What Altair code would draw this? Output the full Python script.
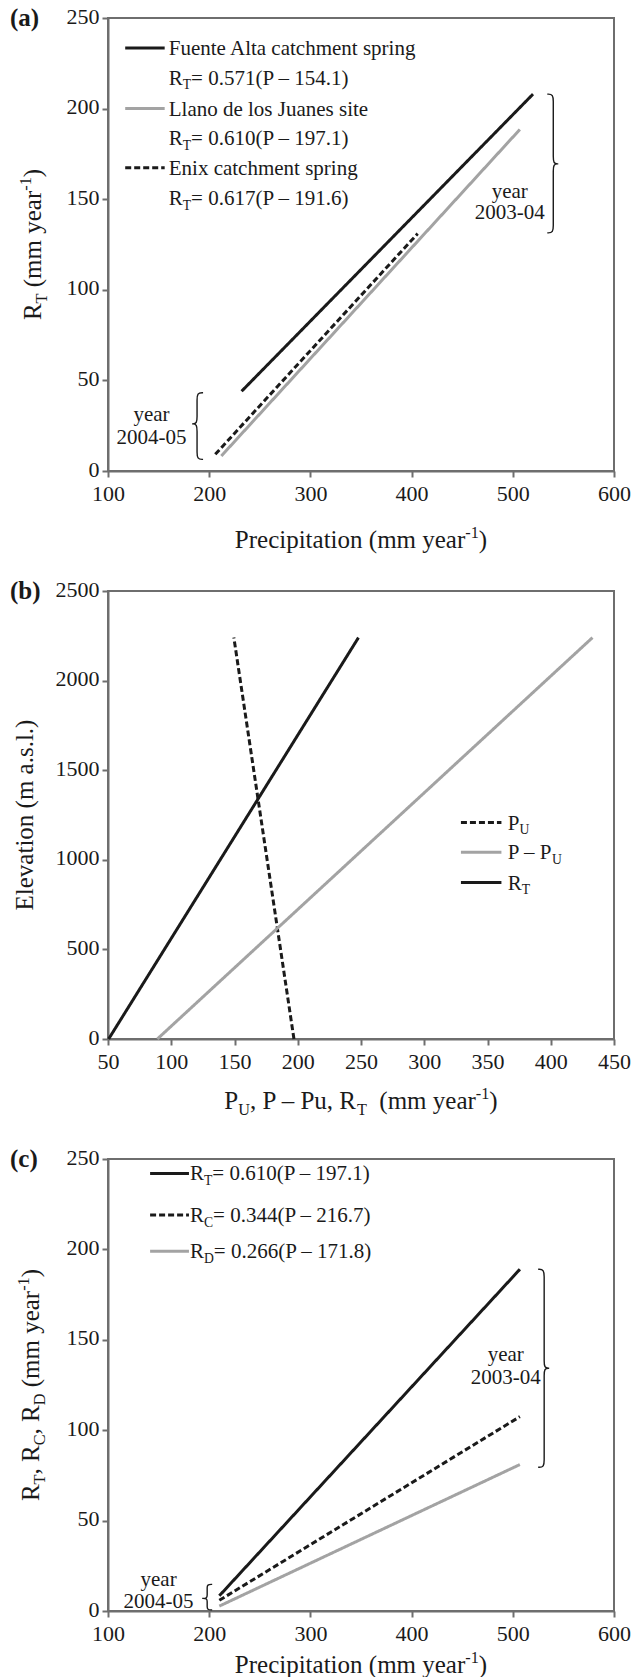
import altair as alt
import pandas as pd

FONT = "Liberation Serif"
INK = "#1a1a1a"
GREY = "#a3a3a3"
FRAME = "#6e6e6e"
DASH = [6, 3]

# ---------------- values ----------------
# panel (a)
A_SERIES = ["Fuente Alta catchment spring", "Llano de los Juanes site", "Enix catchment spring"]
A_EQS = ["= 0.571(P \u2013 154.1)", "= 0.610(P \u2013 197.1)", "= 0.617(P \u2013 191.6)"]
A_P_START = [232, 212, 206]
A_P_END = [520, 507, 406]
A_R_START = [44.0, 8.3, 9.2]
A_R_END = [208.0, 188.5, 131.0]
A_X_TICKS = [100, 200, 300, 400, 500, 600]
A_Y_TICKS = [0, 50, 100, 150, 200, 250]

# panel (b)
B_SERIES = ["PU", "P-PU", "RT"]
B_X_BOTTOM = [197.0, 89.0, 50.5]
B_X_TOP = [149.5, 433.0, 248.0]
B_ELEV = [0, 2240]
B_X_TICKS = [50, 100, 150, 200, 250, 300, 350, 400, 450]
B_Y_TICKS = [0, 500, 1000, 1500, 2000, 2500]

# panel (c)
C_SERIES = ["RT", "RC", "RD"]
C_EQS = ["= 0.610(P \u2013 197.1)", "= 0.344(P \u2013 216.7)", "= 0.266(P \u2013 171.8)"]
C_SUBS = ["T", "C", "D"]
C_P = [210, 507]
C_R_START = [8.4, 5.9, 2.7]
C_R_END = [189.0, 107.5, 81.0]
C_X_TICKS = [100, 200, 300, 400, 500, 600]
C_Y_TICKS = [0, 50, 100, 150, 200, 250]

YEAR_LABELS = ["year", "2003-04", "2004-05"]

# ---------------- layout ----------------
W = 506
HA, HB, HC = 453, 448, 452
SPACING = 120

# Times / Liberation Serif advance widths (1/1000 em)
CW = {' ': 250, '(': 333, ')': 333, '-': 333, '\u2013': 500, '=': 564, '.': 250, ',': 250,
      'A': 722, 'C': 667, 'D': 722, 'E': 611, 'F': 556, 'J': 389, 'L': 611, 'P': 556,
      'R': 667, 'T': 611, 'U': 722,
      'a': 444, 'b': 500, 'c': 444, 'd': 500, 'e': 444, 'f': 333, 'g': 500, 'h': 500,
      'i': 278, 'j': 278, 'k': 500, 'l': 278, 'm': 778, 'n': 500, 'o': 500, 'p': 500,
      'r': 333, 's': 389, 't': 278, 'u': 500, 'v': 500, 'w': 722, 'x': 500, 'y': 500}
for d in "0123456789":
    CW[d] = 500
SMALL = 0.65


def tw(s, size):
    return sum(CW.get(ch, 500) for ch in s) * size / 1000.0


def rich(segs, df, enc, size, anchor="left", angle=0, color=INK, weight="normal", dy0=0.0):
    sizes = [size * SMALL if k != "n" else size for t, k in segs]
    widths = [tw(t, s) for (t, k), s in zip(segs, sizes)]
    off = -sum(widths) / 2 if anchor == "center" else 0.0
    out = []
    for (t, k), s, w in zip(segs, sizes, widths):
        lead = len(t) - len(t.lstrip(" "))
        core = t.strip(" ")
        if core:
            dy = dy0 + (0.22 * size if k == "sub" else (-0.40 * size if k == "sup" else 0.0))
            out.append(
                alt.Chart(df).mark_text(text=core, font=FONT, fontSize=s, fontWeight=weight, color=color,
                                        align="left", baseline="alphabetic", angle=angle,
                                        dx=off + tw(" " * lead, s), dy=dy)
                .encode(**enc)
            )
        off += w
    return out


DUMMY = pd.DataFrame({"k": [0]})


def px(xp, yp):
    return dict(x=alt.value(xp), y=alt.value(yp))


def axis(values):
    return alt.Axis(values=values, title=None, grid=False, labelFlush=False, labelOverlap=False,
                    labelBound=False, format="d")


class Panel:
    def __init__(self, tag, xdom, ydom, xt, yt, w, h):
        self.tag = tag
        self.xs = alt.Scale(domain=xdom, nice=False, zero=False)
        self.ys = alt.Scale(domain=ydom, nice=False, zero=False)
        self.xa = axis(xt)
        self.ya = axis(yt)
        self.pxx = w / (xdom[1] - xdom[0])
        self.pxy = h / (ydom[1] - ydom[0])

    def X(self, f="x:Q"):
        return alt.X(f, scale=self.xs, axis=self.xa)

    def Y(self, f="y:Q"):
        return alt.Y(f, scale=self.ys, axis=self.ya)

    def dpos(self, xv, yv):
        df = pd.DataFrame({"x": [xv], "y": [yv]})
        return df, dict(x=self.X(), y=self.Y())

    def style(self, names, colors, dashes):
        f = "s" + self.tag + ":N"
        return dict(
            color=alt.Color(f, scale=alt.Scale(domain=names, range=colors), legend=None),
            strokeDash=alt.StrokeDash(f, scale=alt.Scale(domain=names, range=dashes), legend=None),
        )

    def lines(self, df, names, colors, dashes):
        return alt.Chart(df).mark_line(strokeWidth=3, strokeCap="butt").encode(
            x=self.X(), y=self.Y(), order=alt.Order("i:Q"), **self.style(names, colors, dashes))

    def samples(self, names, colors, dashes, x0, x1, yvals):
        df = pd.DataFrame({"s" + self.tag: names, "x": [x0] * len(names), "x2": [x1] * len(names), "y": yvals})
        return alt.Chart(df).mark_rule(strokeWidth=3, strokeCap="butt").encode(
            x=self.X(), x2="x2:Q", y=self.Y(), **self.style(names, colors, dashes))

    def brace(self, xb, yt, yb, ym, d, hook=6, tip=5, curl=9):
        w = hook / self.pxx
        t = tip / self.pxx
        c = curl / self.pxy
        pts = ([(xb - d * w, yt), (xb, yt)] + [(xb, yt - c)] * 3 + [(xb, ym + c)] * 3 +
               [(xb, ym)] + [(xb + d * t, ym)] * 3 + [(xb, ym)] + [(xb, ym - c)] * 3 +
               [(xb, yb + c)] * 3 + [(xb, yb), (xb - d * w, yb)])
        df = pd.DataFrame({"x": [p[0] for p in pts], "y": [p[1] for p in pts], "i": list(range(len(pts)))})
        return alt.Chart(df).mark_line(color=INK, strokeWidth=1.4, interpolate="basis").encode(
            x=self.X(), y=self.Y(), order=alt.Order("i:Q"))

    def centered(self, text, xv, yv, size=21):
        df, enc = self.dpos(xv, yv)
        return alt.Chart(df).mark_text(text=text, font=FONT, fontSize=size, color=INK, align="center",
                                       baseline="alphabetic").encode(**enc)


TITLE = 25
LAB = 21
TICK = 22
SUP_MM = [(" (mm year", "n"), ("-1", "sup"), (")", "n")]

# ================= panel (a) =================
pa = Panel("a", [100, 600], [0, 250], A_X_TICKS, A_Y_TICKS, W, HA)
rows = []
for k, s in enumerate(A_SERIES):
    rows.append({"sa": s, "x": A_P_START[k], "y": A_R_START[k], "i": 0})
    rows.append({"sa": s, "x": A_P_END[k], "y": A_R_END[k], "i": 1})
df_a = pd.DataFrame(rows)
a_colors = [INK, GREY, INK]
a_dashes = [[1, 0], [1, 0], DASH]

layers_a = [pa.lines(df_a, A_SERIES, a_colors, a_dashes)]
a_leg_y = [233.5, 200.0, 167.3]
a_eq_y = [217.0, 183.8, 150.7]
layers_a.append(pa.samples(A_SERIES, a_colors, a_dashes, 117, 156, a_leg_y))
for s, eq, yl, ye in zip(A_SERIES, A_EQS, a_leg_y, a_eq_y):
    df, enc = pa.dpos(160, yl)
    layers_a += rich([(s, "n")], df, enc, LAB, dy0=7)
    df, enc = pa.dpos(160, ye)
    layers_a += rich([("R", "n"), ("T", "sub"), (eq, "n")], df, enc, LAB, dy0=7)
layers_a.append(pa.brace(540, 208, 131.4, 169.5, 1))
layers_a.append(pa.brace(188, 43.2, 6.4, 26, -1))
for txt, xv, yv in [(YEAR_LABELS[0], 497, 150.7), (YEAR_LABELS[1], 497, 138.8),
                    (YEAR_LABELS[0], 143, 27.6), (YEAR_LABELS[2], 143, 15.0)]:
    layers_a.append(pa.centered(txt, xv, yv))
layers_a += rich([("R", "n"), ("T", "sub")] + SUP_MM, DUMMY, px(-67, HA / 2), TITLE, anchor="center", angle=270)
layers_a += rich([("Precipitation (mm year", "n"), ("-1", "sup"), (")", "n")], DUMMY, px(W / 2, HA + 77), TITLE, anchor="center")
layers_a += rich([("(a)", "n")], DUMMY, px(-98, 8), TITLE, weight="bold")
layers_a.append(alt.Chart(DUMMY).mark_square(size=1, opacity=0).encode(x=alt.value(-106.5), y=alt.value(-16.5)))
panel_a = alt.layer(*layers_a).properties(width=W, height=HA)

# ================= panel (b) =================
pb = Panel("b", [50, 450], [0, 2500], B_X_TICKS, B_Y_TICKS, W, HB)
rows = []
for k, s in enumerate(B_SERIES):
    rows.append({"sb": s, "x": B_X_BOTTOM[k], "y": B_ELEV[0], "i": 0})
    rows.append({"sb": s, "x": B_X_TOP[k], "y": B_ELEV[1], "i": 1})
df_b = pd.DataFrame(rows)
b_colors = [INK, GREY, INK]
b_dashes = [DASH, [1, 0], [1, 0]]
layers_b = [pb.lines(df_b, B_SERIES, b_colors, b_dashes)]
b_leg_y = [1208, 1042, 873]
layers_b.append(pb.samples(B_SERIES, b_colors, b_dashes, 329, 361, b_leg_y))
b_labels = [[("P", "n"), ("U", "sub")], [("P \u2013 P", "n"), ("U", "sub")], [("R", "n"), ("T", "sub")]]
for segs, yv in zip(b_labels, b_leg_y):
    df, enc = pb.dpos(366, yv)
    layers_b += rich(segs, df, enc, LAB, dy0=7)
layers_b += rich([("Elevation (m a.s.l.)", "n")], DUMMY, px(-75, HB / 2), TITLE, anchor="center", angle=270)
layers_b += rich([("P", "n"), ("U", "sub"), (", P \u2013 Pu, R", "n"), ("T", "sub"), (" ", "n")] + SUP_MM,
                 DUMMY, px(W / 2, HB + 70), TITLE, anchor="center")
layers_b += rich([("(b)", "n")], DUMMY, px(-98, 8), TITLE, weight="bold")
panel_b = alt.layer(*layers_b).properties(width=W, height=HB)

# ================= panel (c) =================
pc = Panel("c", [100, 600], [0, 250], C_X_TICKS, C_Y_TICKS, W, HC)
rows = []
for k, s in enumerate(C_SERIES):
    rows.append({"sc": s, "x": C_P[0], "y": C_R_START[k], "i": 0})
    rows.append({"sc": s, "x": C_P[1], "y": C_R_END[k], "i": 1})
df_c = pd.DataFrame(rows)
c_colors = [INK, INK, GREY]
c_dashes = [[1, 0], DASH, [1, 0]]
layers_c = [pc.lines(df_c, C_SERIES, c_colors, c_dashes)]
c_leg_y = [242.0, 219.0, 199.0]
layers_c.append(pc.samples(C_SERIES, c_colors, c_dashes, 141.6, 180, c_leg_y))
for sub, eq, yv in zip(C_SUBS, C_EQS, c_leg_y):
    df, enc = pc.dpos(181, yv)
    layers_c += rich([("R", "n"), (sub, "sub"), (eq, "n")], df, enc, LAB, dy0=7)
layers_c.append(pc.brace(531, 189, 79.5, 134.3, 1))
layers_c.append(pc.brace(198, 14.7, 0.6, 7.0, -1, hook=5, tip=5, curl=4))
for txt, xv, yv in [(YEAR_LABELS[0], 493, 138.5), (YEAR_LABELS[1], 493, 125.8),
                    (YEAR_LABELS[0], 150, 13.8), (YEAR_LABELS[2], 150, 1.7)]:
    layers_c.append(pc.centered(txt, xv, yv))
layers_c += rich([("R", "n"), ("T", "sub"), (", R", "n"), ("C", "sub"), (", R", "n"), ("D", "sub")] + SUP_MM,
                 DUMMY, px(-69, HC / 2), TITLE, anchor="center", angle=270)
layers_c += rich([("Precipitation (mm year", "n"), ("-1", "sup"), (")", "n")], DUMMY, px(W / 2, HC + 62), TITLE, anchor="center")
layers_c += rich([("(c)", "n")], DUMMY, px(-98, 8), TITLE, weight="bold")
panel_c = alt.layer(*layers_c).properties(width=W, height=HC)

chart = (
    alt.vconcat(panel_a, panel_b, panel_c, spacing=SPACING, bounds="flush")
    .resolve_scale(x="independent", y="independent", color="independent", strokeDash="independent")
    .properties(padding=0, background="white")
    .configure_axis(labelFont=FONT, labelFontSize=TICK, labelColor=INK, domainColor=FRAME, domainWidth=2,
                    tickColor=FRAME, tickWidth=2, tickSize=6, labelPadding=3)
    .configure_axisX(labelPadding=6)
    .configure_axisY(labelOffset=-2)
    .configure_view(stroke=FRAME, strokeWidth=2)
)

chart.save("out.html", embed_options={"renderer": "svg", "actions": False})
